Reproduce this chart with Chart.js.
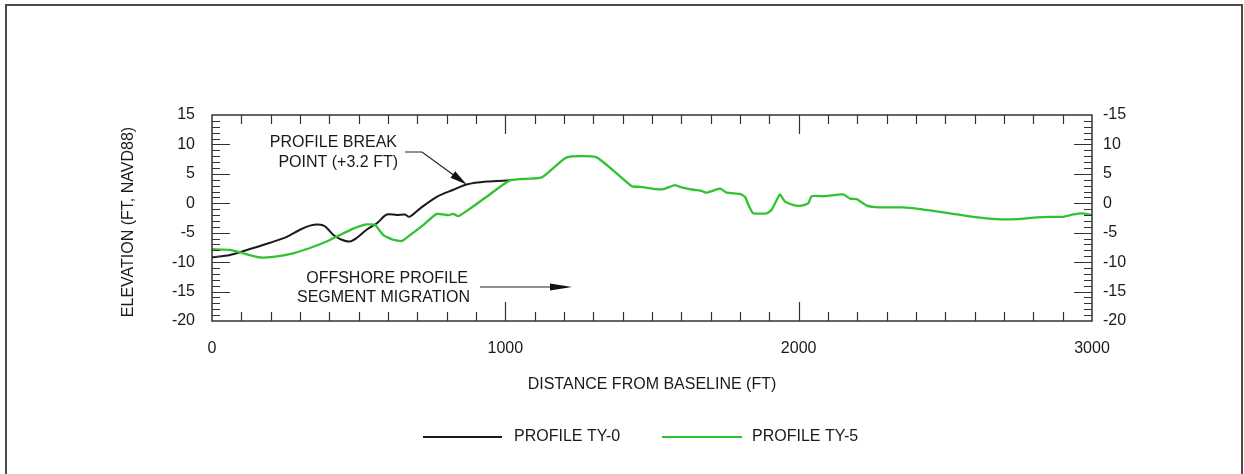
<!DOCTYPE html>
<html>
<head>
<meta charset="utf-8">
<script src="https://cdn.jsdelivr.net/npm/chart.js@4"></script>
<style>
  html, body { margin: 0; padding: 0; background: #ffffff; }
  #wrap { width: 1244px; height: 474px; position: relative; }
  canvas { display: block; }
</style>
</head>
<body>
<div id="wrap"><canvas id="c" width="1244" height="474"></canvas></div>
<script>
// ---- Data ----
const ty0X = [0, 61, 141, 198, 255, 300, 334, 362, 385, 414, 442, 470, 493, 527, 562, 596, 630, 658, 673, 709, 766, 823, 868, 936, 1016];
const ty0Y = [-9.2, -8.8, -7.6, -6.7, -5.7, -4.5, -3.8, -3.6, -3.9, -5.4, -6.2, -6.5, -5.9, -4.5, -3.4, -1.9, -2.0, -1.9, -2.3, -0.9, 1.1, 2.3, 3.2, 3.7, 3.9];

const ty5X = [0, 61, 107, 164, 209, 277, 334, 391, 436, 482, 527, 556, 584, 618, 647, 675, 720, 766, 806, 823, 840, 880, 936, 1016,
  1124, 1209, 1311, 1431, 1459, 1516, 1539, 1578, 1601, 1641, 1669, 1686, 1732, 1755, 1800, 1817, 1829, 1845, 1891, 1908, 1936,
  1953, 1982, 2010, 2033, 2044, 2084, 2152, 2175, 2198, 2232, 2277, 2357, 2402, 2459, 2516, 2595, 2675, 2743, 2811, 2857, 2902,
  2936, 2965, 3000];
const ty5Y = [-7.8, -7.9, -8.5, -9.2, -9.1, -8.5, -7.6, -6.5, -5.4, -4.3, -3.6, -3.7, -5.4, -6.2, -6.4, -5.4, -3.7, -1.8, -2.0, -1.8, -2.2, -0.9, 1.1, 3.9,
  4.4, 7.8, 7.8, 2.9, 2.8, 2.4, 2.4, 3.1, 2.7, 2.3, 2.1, 1.8, 2.5, 1.8, 1.6, 1.1, -0.3, -1.7, -1.7, -1.1, 1.5,
  0.3, -0.3, -0.4, 0.0, 1.2, 1.2, 1.5, 0.8, 0.7, -0.4, -0.7, -0.7, -0.9, -1.3, -1.7, -2.3, -2.7, -2.7, -2.4, -2.3, -2.3,
  -1.9, -1.7, -2.0];

const seriesLabels = ['PROFILE TY-0', 'PROFILE TY-5'];
const xTickValues = [0, 1000, 2000, 3000];
const xTickLabels = ['0', '1000', '2000', '3000'];
const yTickValues = [-20, -15, -10, -5, 0, 5, 10, 15];
const leftTickLabels = ['-20', '-15', '-10', '-5', '0', '5', '10', '15'];
const rightTickLabels = ['-20', '-15', '-10', '-5', '0', '5', '10', '-15'];
const xTitle = 'DISTANCE FROM BASELINE (FT)';
const yTitle = 'ELEVATION (FT, NAVD88)';
const breakNote = ['PROFILE BREAK', 'POINT (+3.2 FT)'];
const breakPoint = { x: 868, y: 3.2 };
const offshoreNote = ['OFFSHORE PROFILE', 'SEGMENT MIGRATION'];

const FONT = '"Liberation Sans", Arial, sans-serif';
const TEXT = '#1a1a1a';
const AXIS = '#333333';
const GREEN = '#2fc42f';

function pts(xs, ys) { return xs.map((x, i) => ({ x: x, y: ys[i] })); }

function arrow(ctx, x0, y0, x1, y1, len, half) {
  const a = Math.atan2(y1 - y0, x1 - x0);
  ctx.beginPath();
  ctx.moveTo(x1, y1);
  ctx.lineTo(x1 - len * Math.cos(a) + half * Math.sin(a), y1 - len * Math.sin(a) - half * Math.cos(a));
  ctx.lineTo(x1 - len * Math.cos(a) - half * Math.sin(a), y1 - len * Math.sin(a) + half * Math.cos(a));
  ctx.closePath();
  ctx.fill();
}

const decor = {
  id: 'decor',
  beforeDraw(chart) {
    const ctx = chart.ctx;
    ctx.save();
    ctx.fillStyle = '#ffffff';
    ctx.fillRect(0, 0, chart.width, chart.height);
    ctx.restore();
  },
  afterDraw(chart) {
    const ctx = chart.ctx;
    const xs = chart.scales.x, ys = chart.scales.y;
    const a = chart.chartArea;
    ctx.save();

    // outer page frame
    ctx.strokeStyle = '#4a4a4a';
    ctx.lineWidth = 2;
    ctx.beginPath();
    ctx.moveTo(6, 474);
    ctx.lineTo(6, 5);
    ctx.lineTo(1242, 5);
    ctx.lineTo(1242, 474);
    ctx.stroke();

    // plot frame
    ctx.strokeStyle = AXIS;
    ctx.lineWidth = 1.5;
    ctx.strokeRect(a.left, a.top, a.right - a.left, a.bottom - a.top);

    // x ticks (top and bottom, inward)
    ctx.lineWidth = 1.2;
    ctx.beginPath();
    for (let v = 100; v < 3000; v += 100) {
      const px = Math.round(xs.getPixelForValue(v)) + 0.5;
      const len = v % 1000 === 0 ? 19 : 9;
      ctx.moveTo(px, a.top); ctx.lineTo(px, a.top + len);
      ctx.moveTo(px, a.bottom); ctx.lineTo(px, a.bottom - len);
    }
    // y ticks (left and right, inward)
    for (let v = -19; v < 15; v += 1) {
      const py = Math.round(ys.getPixelForValue(v)) + 0.5;
      const len = v % 5 === 0 ? 18 : 8;
      ctx.moveTo(a.left, py); ctx.lineTo(a.left + len, py);
      ctx.moveTo(a.right, py); ctx.lineTo(a.right - len, py);
    }
    ctx.stroke();

    // text
    ctx.fillStyle = TEXT;
    ctx.font = '16px ' + FONT;
    ctx.textBaseline = 'middle';

    // axis titles
    ctx.textAlign = 'center';
    ctx.fillText(xTitle, (a.left + a.right) / 2, 385);
    ctx.save();
    ctx.translate(129, (a.top + a.bottom) / 2 + 4);
    ctx.rotate(-Math.PI / 2);
    ctx.fillText(yTitle, 0, 0);
    ctx.restore();

    // break point annotation
    ctx.textAlign = 'right';
    ctx.fillText(breakNote[0], 397, 143);
    ctx.fillText(breakNote[1], 398, 163);
    const bx = xs.getPixelForValue(breakPoint.x), by = ys.getPixelForValue(breakPoint.y);
    ctx.strokeStyle = '#222';
    ctx.fillStyle = '#111';
    ctx.lineWidth = 1.2;
    ctx.beginPath();
    ctx.moveTo(405, 152);
    ctx.lineTo(422, 152);
    ctx.lineTo(bx - 2, by - 1.5);
    ctx.stroke();
    arrow(ctx, 422, 152, bx, by, 17, 4);

    // offshore migration annotation
    ctx.fillStyle = TEXT;
    ctx.textAlign = 'right';
    ctx.fillText(offshoreNote[0], 468, 279);
    ctx.fillText(offshoreNote[1], 470, 298);
    ctx.strokeStyle = '#222';
    ctx.fillStyle = '#111';
    ctx.beginPath();
    ctx.moveTo(480, 287);
    ctx.lineTo(560, 287);
    ctx.stroke();
    arrow(ctx, 480, 287, 572, 287, 22, 3.5);

    // legend
    const ds = chart.data.datasets;
    const legendY = 437;
    const items = [{ x0: 423, x1: 502, tx: 514 }, { x0: 662, x1: 742, tx: 752 }];
    items.forEach((it, i) => {
      ctx.strokeStyle = ds[i].borderColor;
      ctx.lineWidth = 2;
      ctx.beginPath();
      ctx.moveTo(it.x0, legendY);
      ctx.lineTo(it.x1, legendY);
      ctx.stroke();
      ctx.fillStyle = TEXT;
      ctx.textAlign = 'left';
      ctx.fillText(ds[i].label, it.tx, legendY);
    });

    ctx.restore();
  }
};

// chart area: left 212, right 1092, top 115, bottom 321
new Chart(document.getElementById('c'), {
  type: 'line',
  data: {
    datasets: [
      { label: seriesLabels[0], data: pts(ty0X, ty0Y), borderColor: '#1a1a1a', borderWidth: 2, pointRadius: 0, tension: 0.3, order: 2 },
      { label: seriesLabels[1], data: pts(ty5X, ty5Y), borderColor: GREEN, borderWidth: 2.3, pointRadius: 0, tension: 0.15, order: 1 }
    ]
  },
  plugins: [decor],
  options: {
    responsive: false,
    animation: false,
    events: [],
    layout: { padding: { left: 100, right: 100, top: 115, bottom: 100 } },
    plugins: { legend: { display: false }, tooltip: { enabled: false } },
    scales: {
      x: {
        type: 'linear', position: 'bottom', min: 0, max: 3000,
        afterFit: (s) => { s.height = 53; },
        afterBuildTicks: (s) => { s.ticks = xTickValues.map(v => ({ value: v })); },
        grid: { display: false, drawTicks: false },
        border: { display: false },
        ticks: {
          padding: 18, color: TEXT, font: { family: FONT, size: 16 }, maxRotation: 0, autoSkip: false,
          callback: (v) => xTickLabels[xTickValues.indexOf(v)]
        }
      },
      y: {
        type: 'linear', position: 'left', min: -20, max: 15,
        afterFit: (s) => { s.width = 112; },
        afterBuildTicks: (s) => { s.ticks = yTickValues.map(v => ({ value: v })); },
        grid: { display: false, drawTicks: false },
        border: { display: false },
        ticks: {
          padding: 17, color: TEXT, font: { family: FONT, size: 16 },
          callback: (v) => leftTickLabels[yTickValues.indexOf(v)]
        }
      },
      y2: {
        type: 'linear', position: 'right', min: -20, max: 15,
        afterFit: (s) => { s.width = 52; },
        afterBuildTicks: (s) => { s.ticks = yTickValues.map(v => ({ value: v })); },
        grid: { display: false, drawTicks: false },
        border: { display: false },
        ticks: {
          padding: 11, color: TEXT, font: { family: FONT, size: 16 },
          callback: (v) => rightTickLabels[yTickValues.indexOf(v)]
        }
      }
    }
  }
});
</script>
</body>
</html>
